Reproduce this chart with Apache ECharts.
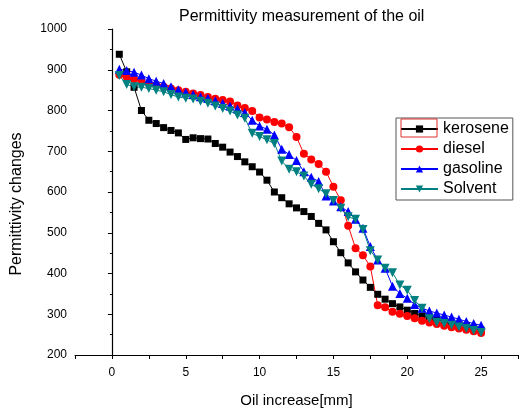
<!DOCTYPE html>
<html><head><meta charset="utf-8">
<script src="https://cdn.jsdelivr.net/npm/echarts@6/dist/echarts.min.js"></script>
<style>html,body{margin:0;padding:0;background:#fff}#c{width:523px;height:410px}</style>
</head><body><div id="c"></div>
<script>
const oilIncrease = [0.5,1,1.5,2,2.5,3,3.5,4,4.5,5,5.5,6,6.5,7,7.5,8,8.5,9,9.5,10,10.5,11,11.5,12,12.5,13,13.5,14,14.5,15,15.5,16,16.5,17,17.5,18,18.5,19,19.5,20,20.5,21,21.5,22,22.5,23,23.5,24,24.5,25];
const kerosene = [938,895,857,800,776,768,758,751,745,729,733,731,730,719,710,698,687,674,662,649,629,600,586,571,561,552,540,523,507,478,451,426,404,384,366,349,337,326,318,310,302,296,291,287,283,279,275,271,266,261];
const diesel = [888,882,877,871,866,862,858,854,850,846,842,838,833,829,826,822,812,806,799,783,778,772,768,759,735,694,680,669,650,613,580,517,462,445,417,322,317,306,301,296,290,284,280,276,272,268,265,262,258,254];
const gasoline = [901,898,894,887,878,872,866,858,851,845,839,834,830,824,818,811,804,795,776,762,754,740,705,692,677,650,636,626,590,578,564,552,533,511,466,433,413,369,351,339,324,315,308,303,298,293,288,282,277,273];
const solvent = [886,864,858,857,854,850,846,839,833,830,828,823,818,811,805,799,789,781,744,736,728,719,676,656,650,639,619,608,596,579,560,539,533,508,456,433,413,402,372,359,334,315,289,280,277,273,269,265,260,255];
const seriesNames = ['kerosene','diesel','gasoline','Solvent'];
const xTickLabels = [0,5,10,15,20,25];
const yTickLabels = [200,300,400,500,600,700,800,900,1000];

const FONT = "'Liberation Sans', Arial, sans-serif";
function pairs(ys){ return oilIncrease.map((x,i)=>[x, ys[i]]); }
const chart = echarts.init(document.getElementById('c'), null, {renderer:'canvas'});
const downTri = 'path://M0,0 L10,0 L5,9 Z';
const mk = (name, data, color, symbol, size) => ({
  name, type:'line', data: pairs(data), symbol, symbolSize:size,
  itemStyle:{color}, lineStyle:{color, width:1}, animation:false
});
chart.setOption({
  animation:false,
  title:{text:'Permittivity measurement of the oil', left:174, top:4,
    textStyle:{fontFamily:FONT, fontSize:16, fontWeight:'normal', color:'#000'}},
  grid:{left:75, right:5, top:29, bottom:55, containLabel:false, outerBoundsMode:'none'},
  legend:{orient:'vertical', left:396, top:118, selectedMode:false,
    data:seriesNames, itemWidth:37, itemHeight:9, itemGap:4, padding:[3,4,3,4],
    borderColor:'#555', borderWidth:1,
    textStyle:{fontFamily:FONT, fontSize:16, color:'#000'}},
  xAxis:{type:'value', min:-2.5, max:27.5, interval:2.5,
    name:'Oil increase[mm]', nameLocation:'middle', nameGap:38,
    nameTextStyle:{fontFamily:FONT, fontSize:15, color:'#000'},
    axisLine:{lineStyle:{color:'#000', width:1.2}},
    axisTick:{length:4, lineStyle:{color:'#000'}},
    splitLine:{show:false},
    axisLabel:{fontFamily:FONT, fontSize:12, color:'#000', margin:12,
      formatter:v => xTickLabels.includes(v) ? String(v) : ''}},
  yAxis:{type:'value', min:200, max:1000, interval:100,
    name:'Permittivity changes', nameLocation:'middle', nameGap:50,
    nameTextStyle:{fontFamily:FONT, fontSize:16, color:'#000', padding:[0,24,0,0]},
    axisLine:{show:true, lineStyle:{color:'#000', width:1.2}},
    axisTick:{show:true, length:4, lineStyle:{color:'#000'}},
    minorTick:{show:true, splitNumber:2, length:2, lineStyle:{color:'#000'}},
    splitLine:{show:false},
    axisLabel:{fontFamily:FONT, fontSize:12, color:'#000', margin:8,
      formatter:v => yTickLabels.includes(v) ? String(v) : ''}},
  graphic:[{type:'rect', shape:{x:401, y:119, width:36, height:18},
    style:{fill:'none', stroke:'#e03030', lineWidth:1}, z:100}],
  series:[
    mk('kerosene', kerosene, '#000000', 'rect', 7),
    mk('diesel', diesel, '#ff0000', 'circle', 8),
    mk('gasoline', gasoline, '#0000ff', 'triangle', 9),
    mk('Solvent', solvent, '#008080', downTri, 9)
  ]
});
</script></body></html>
